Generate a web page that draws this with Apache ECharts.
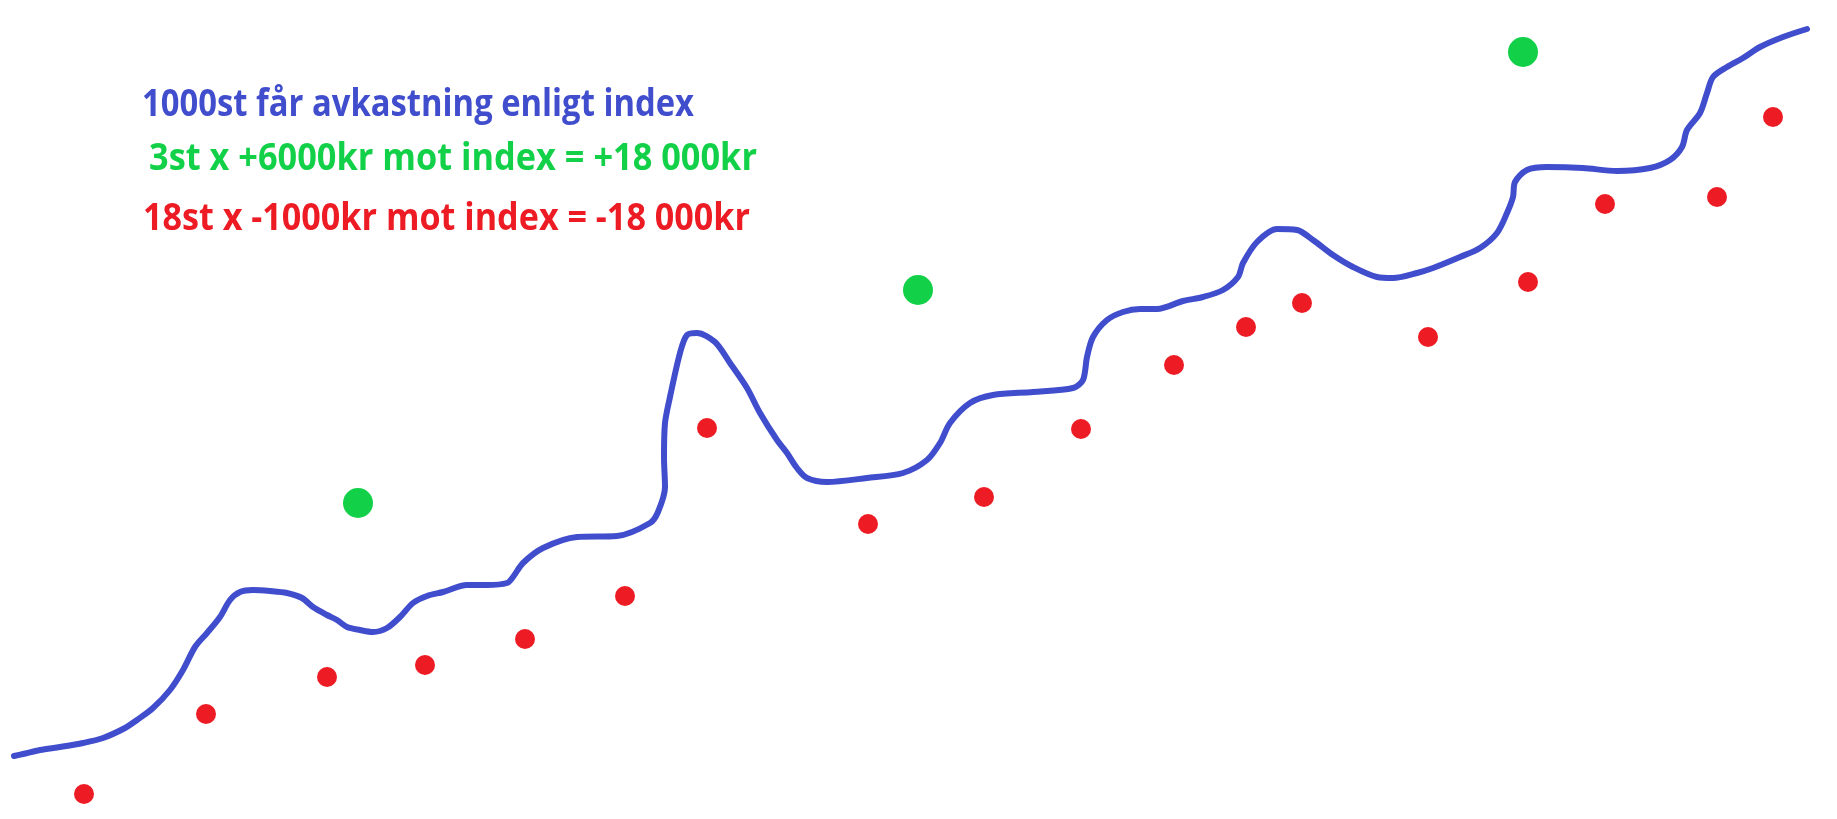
<!DOCTYPE html>
<html>
<head>
<meta charset="utf-8">
<script src="https://cdn.jsdelivr.net/npm/echarts@6/dist/echarts.min.js"></script>
<style>html,body{margin:0;padding:0;background:#fff}#c{width:1837px;height:819px}</style>
</head>
<body>
<div id="c"></div>
<script>
const indexX = [14,23,40,60,83,103,125,137,153,170,183,195,207,220,230,240,253,270,287,302,313,327,337,347,360,373,387,400,413,427,443,467,487,507,513,523,543,577,617,650,658,665,664,665,670,680,687,697,715,730,747,760,777,787,797,807,827,867,903,927,940,950,970,993,1033,1073,1083,1087,1093,1107,1123,1140,1157,1183,1203,1223,1238,1243,1257,1277,1297,1313,1333,1353,1377,1393,1417,1433,1460,1480,1497,1507,1513,1515,1527,1547,1583,1617,1650,1670,1682,1687,1700,1707,1713,1727,1743,1760,1783,1807];
const indexPy = [756,754,750,747,743,738,728,720,708,690,670,647,633,617,600,592,590,591,593,598,607,615,620,627,630,632,628,617,603,596,592,585,585,583,577,563,548,537,536,523,512,487,457,423,397,353,335,333,342,363,388,413,440,453,468,478,482,478,473,460,443,423,403,395,392,388,380,357,337,320,312,309,309,301,297,290,277,263,242,229,230,240,255,267,277,278,273,268,257,248,233,213,197,182,170,167,168,171,168,160,147,130,113,93,77,67,58,47,37,29];
// Winners (green) and losers (red)
const winX = [358,918,1523];
const winPy = [503,290,52];
const loseX = [84,206,327,425,525,625,707,868,984,1081,1174,1246,1302,1428,1528,1605,1717,1773];
const losePy = [794,714,677,665,639,596,428,524,497,429,365,327,303,337,282,204,197,117];
const labels = [
  "1000st får avkastning enligt index",
  "3st x +6000kr mot index = +18 000kr",
  "18st x -1000kr mot index = -18 000kr"
];
const H = 819;
const toPts = (xs, ps) => xs.map((x, i) => [x, H - ps[i]]);

// text layout (left, baseline, target width, colour)
const FONT_SIZE = 37;
const FONT = 'bold ' + FONT_SIZE + 'px "Open Sans"';
const textLayout = [
  {x: 142, base: 119, w: 552, color: '#404dcc'},
  {x: 149, base: 173, w: 608, color: '#12d148'},
  {x: 143, base: 233, w: 607, color: '#ed1c24'}
];
const ctx = document.createElement('canvas').getContext('2d');
ctx.font = FONT;
const graphics = labels.map((t, i) => {
  const L = textLayout[i];
  const mw = ctx.measureText(t).width;
  return {
    type: 'text', x: L.x, y: L.base - FONT_SIZE * 0.36, scaleX: L.w / mw, originX: 0, originY: 0,
    style: {text: t, fill: L.color, font: FONT, textAlign: 'left', textVerticalAlign: 'middle', verticalAlign: 'middle'}
  };
});

const chart = echarts.init(document.getElementById('c'));
chart.setOption({
  animation: false,
  backgroundColor: '#ffffff',
  grid: {left: 0, right: 0, top: 0, bottom: 0},
  xAxis: {type: 'value', min: 0, max: 1837, show: false},
  yAxis: {type: 'value', min: 0, max: 819, show: false},
  graphic: graphics,
  series: [
    {type: 'line', data: toPts(indexX, indexPy), smooth: 0.3, showSymbol: false,
     lineStyle: {color: '#404dcc', width: 6, cap: 'round', join: 'round'}, z: 2},
    {type: 'scatter', data: toPts(winX, winPy), symbolSize: 30,
     itemStyle: {color: '#12d148', opacity: 1}, z: 3},
    {type: 'scatter', data: toPts(loseX, losePy), symbolSize: 20,
     itemStyle: {color: '#ed1c24', opacity: 1}, z: 3}
  ]
});
</script>
</body>
</html>
